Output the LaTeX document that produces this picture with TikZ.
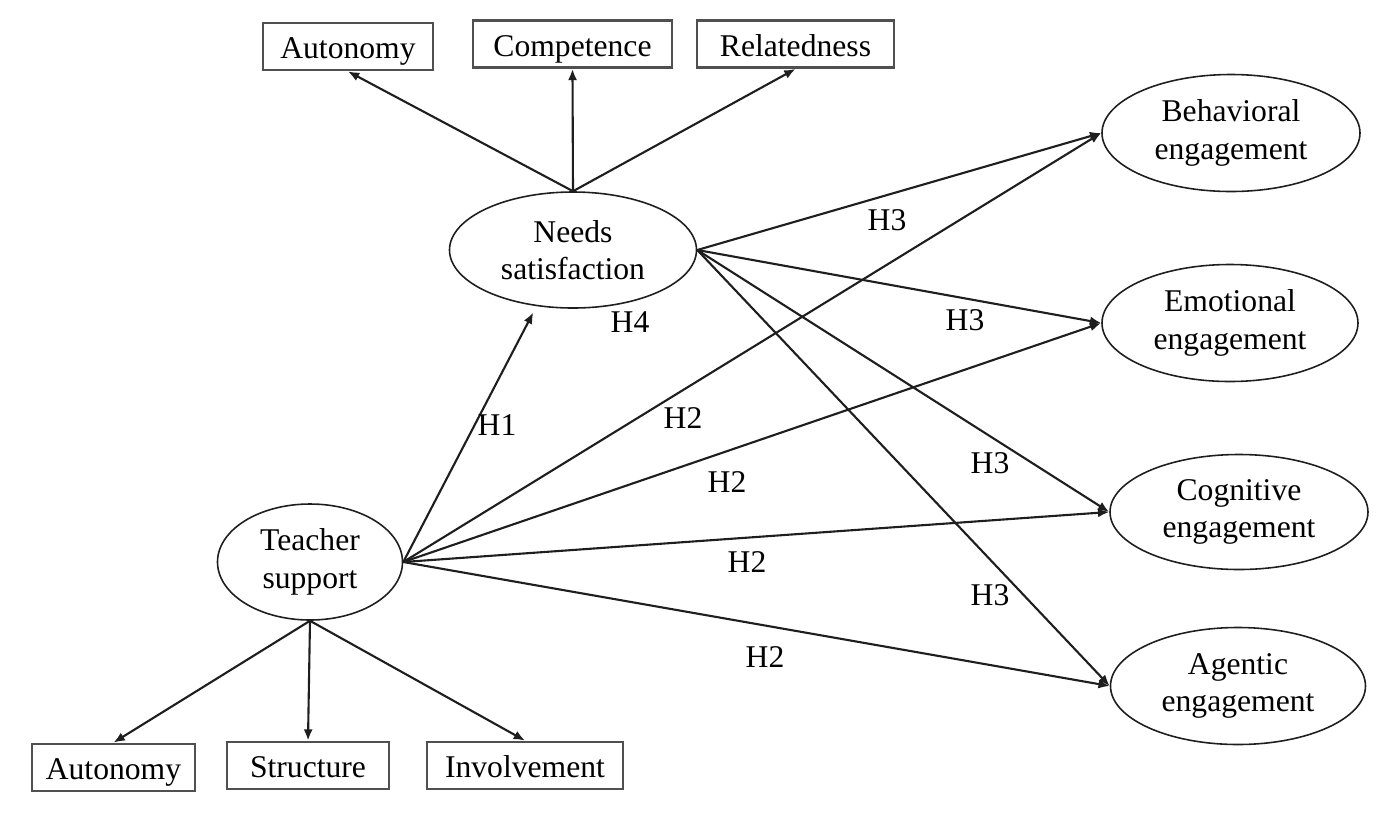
\documentclass[tikz,border=0pt]{standalone}
\usepackage{fontspec}
\setmainfont{Liberation Serif}
\usepackage{tikz}
\usetikzlibrary{calc,arrows.meta,shapes.geometric}
\definecolor{lineGray}{RGB}{30,30,30}
\definecolor{boxGray}{RGB}{80,80,80}
\newcommand{\diagfont}{\fontsize{9}{10.6}\selectfont}
\tikzset{
  latent/.style={ellipse,draw=lineGray,line width=0.45pt,inner sep=0pt,align=center,font=\diagfont},
  indic/.style={rectangle,draw=boxGray,line width=0.8pt,minimum height=0.47cm,inner sep=0pt,
    text height=1.85ex,text depth=0.35ex,font=\diagfont},
  arr/.style={draw=lineGray,line width=0.6pt,-{Latex[length=3.2pt,width=2.6pt]}},
  hyp/.style={inner sep=0pt,font=\diagfont}
}

\begin{document}
\begin{tikzpicture}
    \useasboundingbox (0,0) rectangle (13.9,-8.19);
    % latent variables
    \node[latent,minimum width=2.47cm,minimum height=1.16cm] (needs) at (5.73,-2.50) {Needs\\satisfaction};
    \node[latent,minimum width=1.85cm,minimum height=1.16cm] (teacher) at (3.10,-5.62) {Teacher\\support};
    \node[latent,minimum width=2.58cm,minimum height=1.17cm] (behav) at (12.31,-1.33) {Behavioral\\engagement};
    \node[latent,minimum width=2.56cm,minimum height=1.17cm] (emot) at (12.30,-3.23) {Emotional\\engagement};
    \node[latent,minimum width=2.58cm,minimum height=1.15cm] (cogn) at (12.39,-5.12) {Cognitive\\engagement};
    \node[latent,minimum width=2.55cm,minimum height=1.17cm] (agen) at (12.38,-6.86) {Agentic\\engagement};
    % indicators
    \node[indic,minimum width=1.70cm] (autoT) at (3.48,-0.465) {Autonomy};
    \node[indic,minimum width=1.99cm] (compT) at (5.725,-0.44) {Competence};
    \node[indic,minimum width=1.97cm] (relaT) at (7.955,-0.44) {Relatedness};
    \node[indic,minimum width=1.63cm] (autoB) at (1.135,-7.675) {Autonomy};
    \node[indic,minimum width=1.62cm] (struB) at (3.08,-7.655) {Structure};
    \node[indic,minimum width=1.96cm] (involB) at (5.25,-7.655) {Involvement};
    % measurement arrows
    \foreach \ind in {autoT,compT,relaT} {
       \draw[arr] (needs.north) -- (\ind.south);
     }
    \foreach \ind in {autoB,struB,involB} {
       \draw[arr] (teacher.south) -- (\ind.north);
     }
    % structural paths
    \draw[arr,shorten >=2pt] (teacher.east) -- (needs.237);
    \foreach \eng in {behav,emot,cogn,agen} {
       \draw[arr] (needs.east) -- (\eng.west);
       \draw[arr] (teacher.east) -- (\eng.west);
     }
    % hypotheses
    \node[hyp] (h1) at (4.97,-4.25) {H1};
    \node[hyp] (h4) at (6.30,-3.22) {H4};
    \node[hyp] (h2a) at (6.83,-4.18) {H2};
    \node[hyp] (h2b) at (7.27,-4.82) {H2};
    \node[hyp] (h2c) at (7.47,-5.62) {H2};
    \node[hyp] (h2d) at (7.65,-6.57) {H2};
    \node[hyp] (h3a) at (8.87,-2.20) {H3};
    \node[hyp] (h3b) at (9.65,-3.20) {H3};
    \node[hyp] (h3c) at (9.90,-4.63) {H3};
    \node[hyp] (h3d) at (9.90,-5.95) {H3};
\end{tikzpicture}
\end{document}
